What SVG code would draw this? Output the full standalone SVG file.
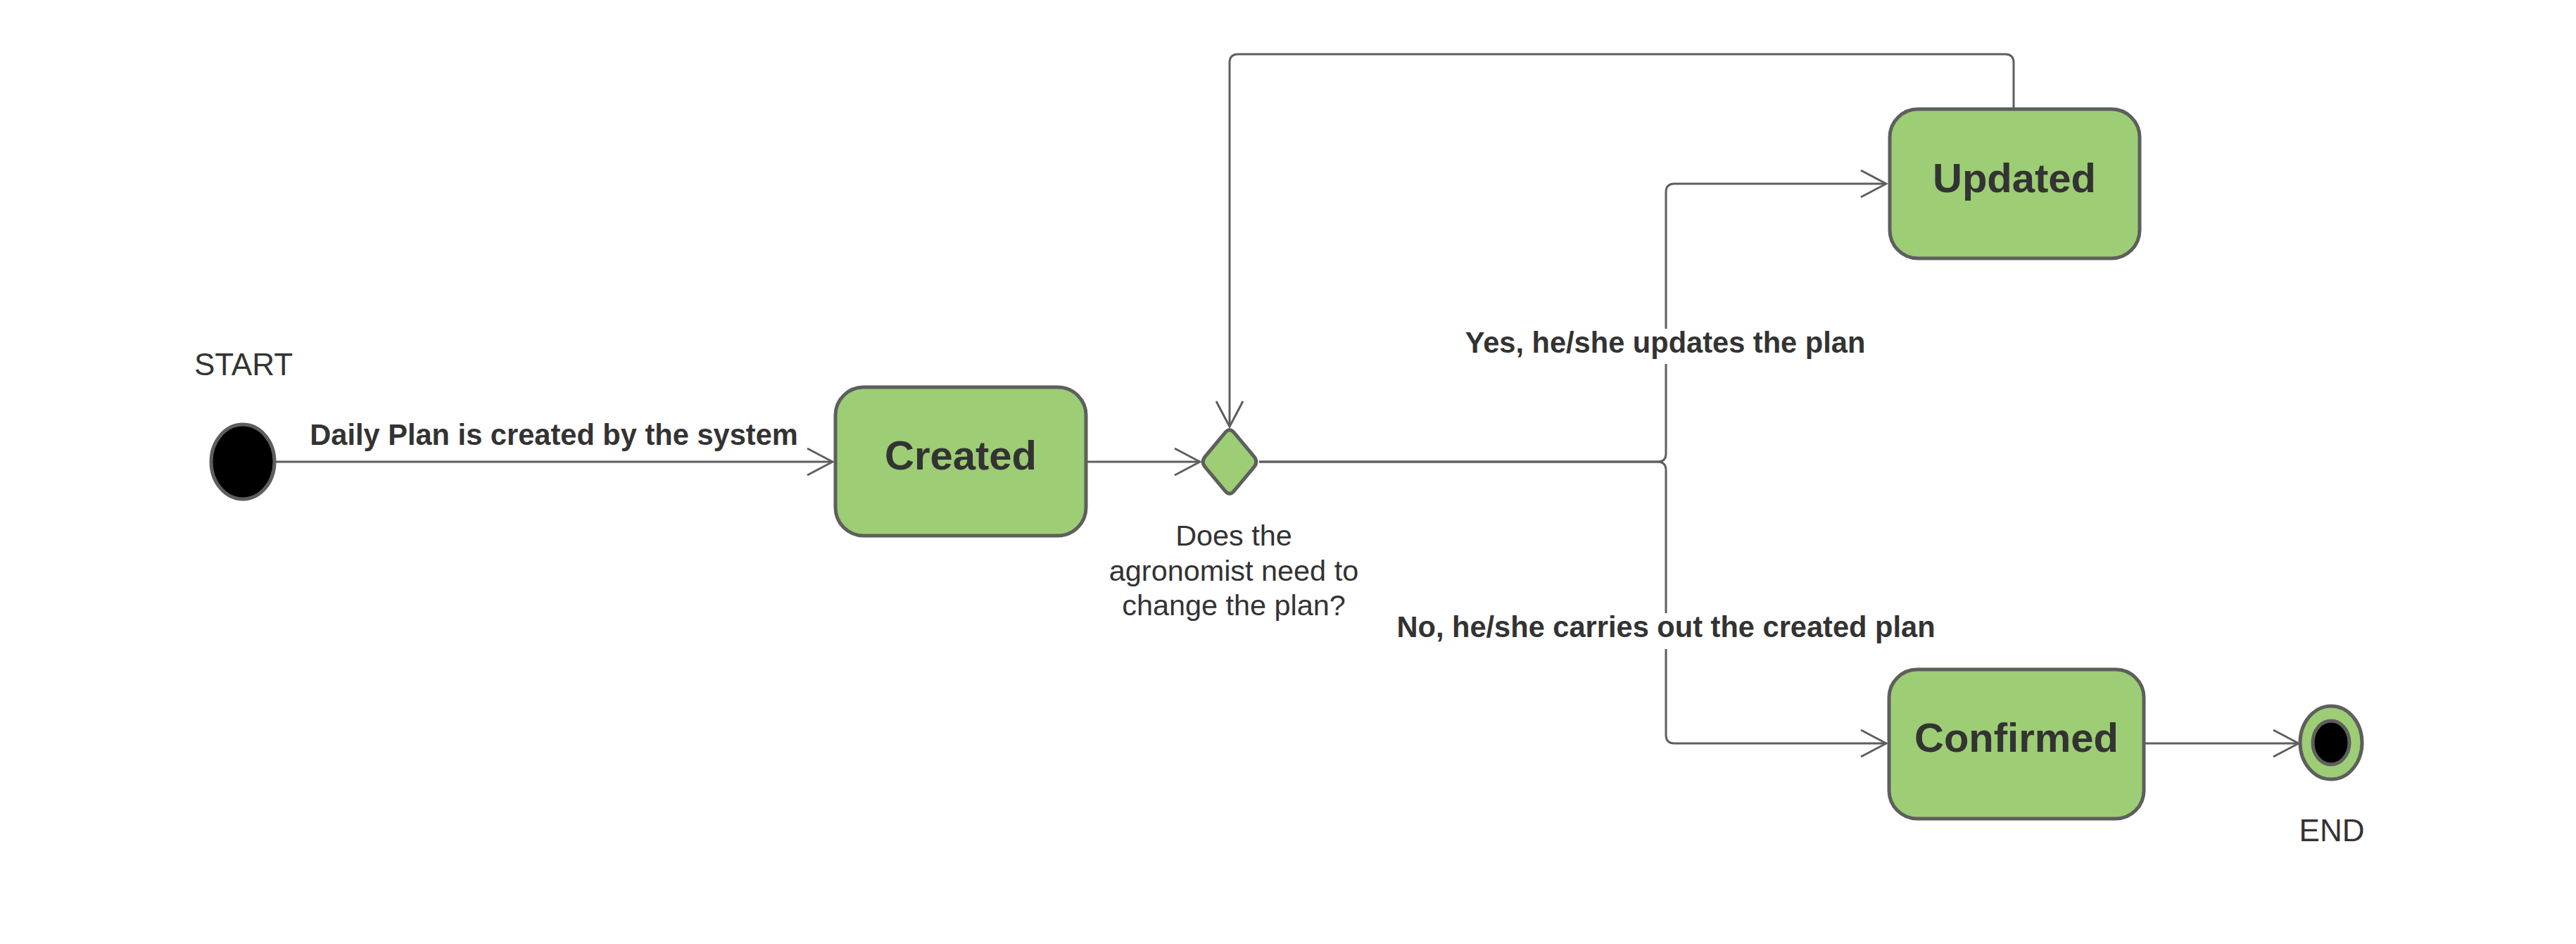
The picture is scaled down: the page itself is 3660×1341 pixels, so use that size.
<svg xmlns="http://www.w3.org/2000/svg" width="3660" height="1341" viewBox="0 0 3660 1341">
<style>
.state{fill:#9dcd74;stroke:#5e5e5e;stroke-width:5}
.conn{fill:none;stroke:#5e5e5e;stroke-width:3}
.t{font-family:"Liberation Sans",Arial,sans-serif;fill:#333333}
.title{font-size:58px;font-weight:bold;text-anchor:middle}
.lbl{font-size:41.6px;font-weight:bold;text-anchor:middle}
.note{font-size:41.4px;text-anchor:middle}
.term{font-size:44px;text-anchor:middle}
</style>
<defs>
<marker id="arrow" markerUnits="userSpaceOnUse" markerWidth="42" markerHeight="44" viewBox="0 0 42 44" refX="39" refY="22" orient="auto">
<path d="M3,3 L39,22 L3,41" fill="none" stroke="#5e5e5e" stroke-width="3"/>
</marker>
</defs>
<rect width="3660" height="1341" fill="#ffffff"/>
<g id="connectors">
<path class="conn" d="M392,656 H1183" marker-end="url(#arrow)"/>
<path class="conn" d="M1545,656 H1705" marker-end="url(#arrow)"/>
<path class="conn" d="M1789,656 H2355 Q2367,656 2367,644 V273 Q2367,261 2379,261 H2680" marker-end="url(#arrow)"/>
<path class="conn" d="M1789,656 H2355 Q2367,656 2367,668 V1044 Q2367,1056 2379,1056 H2680" marker-end="url(#arrow)"/>
<path class="conn" d="M2861,153 V89 Q2861,77 2849,77 H1759 Q1747,77 1747,89 V606" marker-end="url(#arrow)"/>
<path class="conn" d="M3048,1056 H3266" marker-end="url(#arrow)"/>
<rect x="2078" y="467" width="576" height="50" fill="#ffffff"/>
<text class="t lbl" x="2366" y="501">Yes, he/she updates the plan</text>
<rect x="1978" y="871" width="778" height="51" fill="#ffffff"/>
<text class="t lbl" x="2367" y="905">No, he/she carries out the created plan</text>
<text class="t lbl" x="787" y="632">Daily Plan is created by the system</text>
</g>
<g id="start">
<ellipse cx="345" cy="656" rx="45" ry="53" fill="#000000" stroke="#5e5e5e" stroke-width="5"/>
<text class="t term" x="346" y="533">START</text>
</g>
<g id="created">
<rect class="state" x="1187" y="550" width="356" height="211" rx="40" ry="40"/>
<text class="t title" x="1365" y="667">Created</text>
</g>
<g id="decision">
<path class="state" d="M1740.6,614.7 Q1747,607 1753.4,614.7 L1781.6,648.3 Q1788,656 1781.6,663.7 L1753.4,697.3 Q1747,705 1740.6,697.3 L1712.4,663.7 Q1706,656 1712.4,648.3 Z"/>
<text class="t note" x="1753" y="775">Does the</text>
<text class="t note" x="1753" y="825">agronomist need to</text>
<text class="t note" x="1753" y="874">change the plan?</text>
</g>
<g id="updated">
<rect class="state" x="2685" y="155" width="355" height="212" rx="40" ry="40"/>
<text class="t title" x="2862" y="273">Updated</text>
</g>
<g id="confirmed">
<rect class="state" x="2684" y="951" width="362" height="212" rx="40" ry="40"/>
<text class="t title" x="2865" y="1068">Confirmed</text>
</g>
<g id="end">
<ellipse cx="3312" cy="1055" rx="44" ry="52" fill="#9dcd74" stroke="#5e5e5e" stroke-width="5"/>
<ellipse cx="3312" cy="1055" rx="26" ry="31" fill="#000000" stroke="#5e5e5e" stroke-width="5"/>
<text class="t term" x="3313" y="1195">END</text>
</g>
</svg>
